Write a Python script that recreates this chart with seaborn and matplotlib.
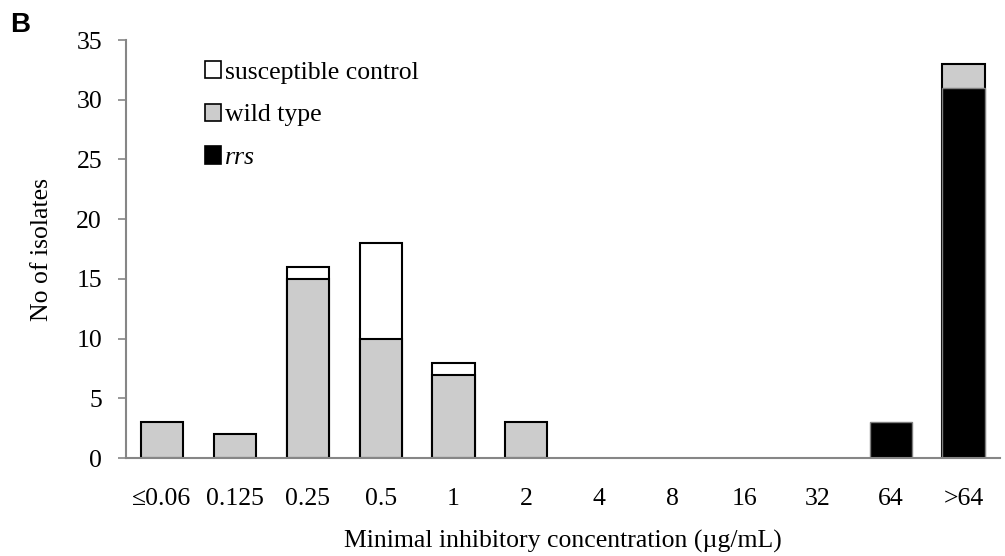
import numpy as np
import pandas as pd
import seaborn as sns
import matplotlib.pyplot as plt
from matplotlib.patches import Patch

# MIC categories and isolate counts per group
categories = ["≤0.06", "0.125", "0.25", "0.5", "1", "2", "4", "8", "16", "32", "64", ">64"]
rrs = [0, 0, 0, 0, 0, 0, 0, 0, 0, 0, 3, 31]
wild_type = [3, 2, 15, 10, 7, 3, 0, 0, 0, 0, 0, 2]
susceptible = [0, 0, 1, 8, 1, 0, 0, 0, 0, 0, 0, 0]

df = pd.DataFrame({"mic": categories, "rrs": rrs, "wt": wild_type, "sc": susceptible})
# cumulative tops for the stacked look (zeros hidden)
df["top_rrs"] = df["rrs"].replace(0, np.nan)
df["top_wt"] = (df["rrs"] + df["wt"]).where(df["wt"] > 0)
df["top_sc"] = (df["rrs"] + df["wt"] + df["sc"]).where(df["sc"] > 0)

sns.set_style("white")
plt.rcParams["font.family"] = ["Liberation Serif", "DejaVu Serif"]
plt.rcParams["text.color"] = "black"
plt.rcParams["axes.labelcolor"] = "black"

fs = 18.5

fig = plt.figure(figsize=(10.05, 5.56), dpi=100)
ax = fig.add_axes([0.125, 0.176, 0.87, 0.752])

bar_w = 0.58
sns.barplot(data=df, x="mic", y="top_sc", order=categories, color="white",
            edgecolor="black", linewidth=1.5, width=bar_w, saturation=1, ax=ax)
sns.barplot(data=df, x="mic", y="top_wt", order=categories, color="#cccccc",
            edgecolor="black", linewidth=1.5, width=bar_w, saturation=1, ax=ax)
sns.barplot(data=df, x="mic", y="top_rrs", order=categories, color="black",
            edgecolor="#7f7f7f", linewidth=1.0, width=bar_w, saturation=1, ax=ax)

ax.set_xlim(-0.5, len(categories) - 0.5)
ax.set_ylim(0, 35)
ax.set_yticks(range(0, 36, 5))
ax.tick_params(axis="y", which="both", left=True, length=6, width=1.2,
               color="#868686", labelcolor="black", labelsize=fs, pad=11)
ax.tick_params(axis="x", bottom=False, labelcolor="black", labelsize=fs, pad=18)

for s in ["top", "right"]:
    ax.spines[s].set_visible(False)
for s in ["left", "bottom"]:
    ax.spines[s].set_color("#868686")
    ax.spines[s].set_linewidth(1.5)

ax.set_xlabel("Minimal inhibitory concentration (µg/mL)", fontsize=fs, labelpad=14)
ax.set_ylabel("No of isolates", fontsize=fs, labelpad=17)

handles = [Patch(facecolor="white", edgecolor="black", linewidth=1.2),
           Patch(facecolor="#cccccc", edgecolor="black", linewidth=1.2),
           Patch(facecolor="black", edgecolor="black", linewidth=1.2)]
leg = ax.legend(handles, ["susceptible control", "wild type", "rrs"],
                loc="upper left", bbox_to_anchor=(0.064, 1.005), frameon=False,
                fontsize=fs, handlelength=0.65, handleheight=0.65,
                handletextpad=0.15, labelspacing=0.78)
leg.get_texts()[2].set_style("italic")

fig.text(0.01, 0.943, "B", fontsize=20, fontweight="bold", va="baseline",
         family=["Liberation Sans", "DejaVu Sans"])

fig.savefig("out.png", dpi=100)
